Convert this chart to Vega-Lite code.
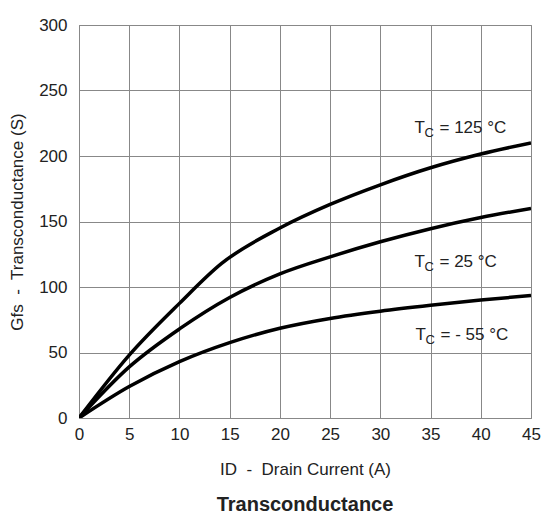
{
  "$schema": "https://vega.github.io/schema/vega-lite/v6.json",
  "autosize": {"type": "none"},
  "width": 452,
  "height": 393,
  "padding": {"left": 79, "top": 25, "right": 18, "bottom": 110},
  "background": "white",
  "config": {
    "font": "Liberation Sans",
    "view": {"stroke": "#888888", "strokeWidth": 1},
    "axis": {
      "labelFont": "Liberation Sans",
      "titleFont": "Liberation Sans",
      "labelFontSize": 17,
      "titleFontSize": 17,
      "titleFontWeight": "normal",
      "labelColor": "#222222",
      "titleColor": "#222222",
      "gridColor": "#888888",
      "gridOpacity": 1,
      "gridWidth": 1,
      "domainColor": "#888888",
      "ticks": false
    }
  },
  "title": {
    "text": "Transconductance",
    "orient": "bottom",
    "anchor": "middle",
    "font": "Liberation Sans",
    "fontSize": 20,
    "fontWeight": "bold",
    "color": "#222222",
    "offset": 18
  },
  "datasets": {
    "curves": [
      {"id": 0, "g": 0, "t": "125"}, {"id": 5, "g": 48, "t": "125"}, {"id": 10, "g": 87.5, "t": "125"},
      {"id": 14.2, "g": 118, "t": "125"}, {"id": 20, "g": 145, "t": "125"}, {"id": 25, "g": 163, "t": "125"},
      {"id": 30, "g": 178, "t": "125"}, {"id": 35, "g": 191, "t": "125"}, {"id": 40, "g": 201.5, "t": "125"},
      {"id": 45, "g": 210, "t": "125"},
      {"id": 0, "g": 0, "t": "25"}, {"id": 5, "g": 39, "t": "25"}, {"id": 10, "g": 68, "t": "25"},
      {"id": 15, "g": 92, "t": "25"}, {"id": 20, "g": 110, "t": "25"}, {"id": 25, "g": 123, "t": "25"},
      {"id": 30, "g": 134.5, "t": "25"}, {"id": 35, "g": 144.5, "t": "25"}, {"id": 40, "g": 153, "t": "25"},
      {"id": 45, "g": 160, "t": "25"},
      {"id": 0, "g": 0, "t": "-55"}, {"id": 5, "g": 24, "t": "-55"}, {"id": 10, "g": 43, "t": "-55"},
      {"id": 15, "g": 57.5, "t": "-55"}, {"id": 20, "g": 68.5, "t": "-55"}, {"id": 25, "g": 76, "t": "-55"},
      {"id": 30, "g": 81.5, "t": "-55"}, {"id": 35, "g": 86, "t": "-55"}, {"id": 40, "g": 90, "t": "-55"},
      {"id": 45, "g": 93.5, "t": "-55"}
    ],
    "labels": [
      {"x": 33.4, "y": 221, "rest": "= 125 °C"},
      {"x": 33.4, "y": 119, "rest": "= 25 °C"},
      {"x": 33.5, "y": 63, "rest": "= - 55 °C"}
    ]
  },
  "layer": [
    {
      "data": {"name": "curves"},
      "mark": {"type": "line", "color": "black", "strokeWidth": 3.5, "interpolate": "monotone", "clip": true},
      "encoding": {
        "x": {
          "field": "id", "type": "quantitative",
          "scale": {"domain": [0, 45], "nice": false, "zero": true},
          "axis": {"values": [0, 5, 10, 15, 20, 25, 30, 35, 40, 45], "title": "ID\u00a0 -\u00a0 Drain Current (A)", "labelPadding": 8, "titlePadding": 19, "labelFlush": false}
        },
        "y": {
          "field": "g", "type": "quantitative",
          "scale": {"domain": [0, 300], "nice": false},
          "axis": {"values": [0, 50, 100, 150, 200, 250, 300], "title": "Gfs\u00a0 -\u00a0 Transconductance (S)", "labelPadding": 12, "titlePadding": 12}
        },
        "detail": {"field": "t"}
      }
    },
    {
      "data": {"name": "labels"},
      "mark": {"type": "text", "text": "T", "align": "left", "baseline": "middle", "fontSize": 17, "color": "#222222"},
      "encoding": {"x": {"field": "x", "type": "quantitative"}, "y": {"field": "y", "type": "quantitative"}}
    },
    {
      "data": {"name": "labels"},
      "mark": {"type": "text", "text": "C", "align": "left", "baseline": "middle", "fontSize": 13, "dx": 10, "dy": 5, "color": "#222222"},
      "encoding": {"x": {"field": "x", "type": "quantitative"}, "y": {"field": "y", "type": "quantitative"}}
    },
    {
      "data": {"name": "labels"},
      "mark": {"type": "text", "align": "left", "baseline": "middle", "fontSize": 17, "dx": 25, "color": "#222222"},
      "encoding": {"x": {"field": "x", "type": "quantitative"}, "y": {"field": "y", "type": "quantitative"}, "text": {"field": "rest"}}
    }
  ]
}
